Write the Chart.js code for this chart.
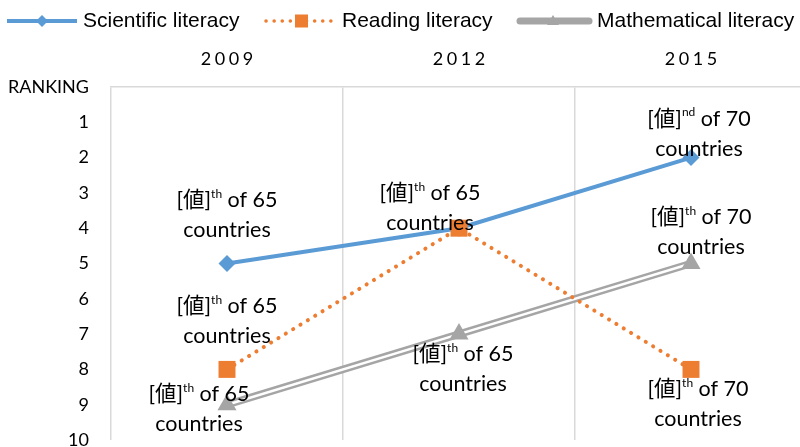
<!DOCTYPE html>
<html>
<head>
<meta charset="utf-8">
<script src="https://cdn.jsdelivr.net/npm/chart.js@4.4.1/dist/chart.umd.min.js"></script>
<style>
html,body{margin:0;padding:0;overflow:hidden;background:#fff;width:800px;height:447px}
canvas{display:block}
</style>
</head>
<body>
<canvas id="ranking" width="819" height="452"></canvas>
<script>
// data
const years = ['2009', '2012', '2015'];
const scienceRank = [5, 4, 2];
const readingRank = [8, 4, 8];
const mathRank = [9, 7, 5];
const totalCountries = [65, 65, 70];
const seriesNames = ['Scientific literacy', 'Reading literacy', 'Mathematical literacy'];

// label placement, moved by hand in the original (px from the point)
const scienceLabelPos = [[0, -48], [-29, -20], [8, -24]];
const readingLabelPos = [[0, -48], null, [7, 35]];
const mathLabelPos = [[-28, 4], [4, 35], [10, -31]];

const blue = '#5B9BD5', orange = '#ED7D31', gray = '#A5A5A5';
const labelFont = '21.5px Lato, "Noto Sans CJK JP", sans-serif';
const supFont = '12px Lato, sans-serif';

function suffix(n){
  if (n % 100 >= 11 && n % 100 <= 13) return 'th';
  if (n % 10 == 1) return 'st';
  if (n % 10 == 2) return 'nd';
  if (n % 10 == 3) return 'rd';
  return 'th';
}

function drawLabel(ctx, cx, cy, rank, total){
  const a = '[値]', s = suffix(rank), b = ' of ' + total;
  ctx.font = labelFont;
  const wa = ctx.measureText(a).width, wb = ctx.measureText(b).width;
  ctx.font = supFont;
  const ws = ctx.measureText(s).width;
  let x = cx - (wa + ws + wb) / 2;
  const y1 = cy - 15;
  ctx.fillStyle = '#000';
  ctx.textBaseline = 'middle';
  ctx.textAlign = 'left';
  ctx.font = labelFont; ctx.fillText(a, x, y1); x += wa;
  ctx.font = supFont; ctx.fillText(s, x, y1 - 6); x += ws;
  ctx.font = labelFont; ctx.fillText(b, x, y1);
  ctx.textAlign = 'center';
  ctx.fillText('countries', cx, cy + 15);
}

const labelPlugin = {
  id: 'rankLabels',
  afterDatasetsDraw(chart){
    const ctx = chart.ctx;
    ctx.save();
    const sets = [[0, scienceRank, scienceLabelPos], [1, readingRank, readingLabelPos], [4, mathRank, mathLabelPos]];
    sets.forEach(([di, ranks, pos]) => {
      const meta = chart.getDatasetMeta(di);
      meta.data.forEach((pt, i) => {
        if (!pos[i]) return;
        drawLabel(ctx, pt.x + pos[i][0], pt.y + pos[i][1], ranks[i], totalCountries[i]);
      });
    });
    ctx.restore();
  },
  afterDraw(chart){
    const ctx = chart.ctx;
    ctx.save();
    // year labels on top, spaced out
    const xs = chart.scales.x;
    ctx.font = '18px Lato, sans-serif';
    ctx.letterSpacing = '3.5px';
    ctx.fillStyle = '#000';
    ctx.textAlign = 'center';
    ctx.textBaseline = 'middle';
    years.forEach((yr, i) => ctx.fillText(yr, xs.getPixelForValue(i) + 1.75, 59));
    ctx.letterSpacing = '0px';

    // legend
    const ly = 21;
    ctx.lineWidth = 4; ctx.strokeStyle = blue;
    ctx.beginPath(); ctx.moveTo(7, ly); ctx.lineTo(77, ly); ctx.stroke();
    ctx.fillStyle = blue;
    ctx.beginPath(); ctx.moveTo(42, ly - 6); ctx.lineTo(48, ly); ctx.lineTo(42, ly + 6); ctx.lineTo(36, ly); ctx.closePath(); ctx.fill();

    ctx.lineWidth = 3.5; ctx.strokeStyle = orange; ctx.lineCap = 'round'; ctx.setLineDash([0.1, 8]);
    ctx.beginPath(); ctx.moveTo(266, ly); ctx.lineTo(336, ly); ctx.stroke();
    ctx.setLineDash([]); ctx.lineCap = 'butt';
    ctx.fillStyle = orange; ctx.fillRect(295, ly - 6.5, 13, 13);

    ctx.lineWidth = 7; ctx.strokeStyle = gray; ctx.lineCap = 'round';
    ctx.beginPath(); ctx.moveTo(520, ly); ctx.lineTo(589, ly); ctx.stroke();
    ctx.lineCap = 'butt';
    ctx.fillStyle = gray;
    ctx.beginPath(); ctx.moveTo(553, ly - 6); ctx.lineTo(559, ly + 4); ctx.lineTo(547, ly + 4); ctx.closePath(); ctx.fill();

    ctx.fillStyle = '#000';
    ctx.font = '21px "Liberation Sans", Arial, sans-serif';
    ctx.textAlign = 'left';
    ctx.fillText(seriesNames[0], 83, ly);
    ctx.fillText(seriesNames[1], 342, ly);
    ctx.fillText(seriesNames[2], 597, ly);
    ctx.restore();
  }
};

new Chart(document.getElementById('ranking'), {
  type: 'line',
  data: {
    labels: years,
    datasets: [
      {
        label: seriesNames[0],
        data: scienceRank,
        borderColor: blue,
        backgroundColor: blue,
        borderWidth: 4,
        pointStyle: 'rectRot',
        pointRadius: 8.5,
        pointBorderWidth: 0,
        order: 3
      },
      {
        label: seriesNames[1],
        data: readingRank,
        borderColor: orange,
        backgroundColor: orange,
        borderWidth: 4,
        borderDash: [0.1, 8.5],
        borderCapStyle: 'round',
        pointStyle: 'rect',
        pointRadius: 12,
        pointBorderWidth: 0,
        order: 2
      },
      {
        label: seriesNames[2],
        data: mathRank,
        borderColor: gray,
        borderWidth: 7.5,
        pointRadius: 0,
        order: 6
      },
      {
        label: 'inner',
        data: mathRank,
        borderColor: '#fff',
        borderWidth: 2.5,
        pointRadius: 0,
        order: 5
      },
      {
        label: 'markers',
        data: mathRank,
        showLine: false,
        backgroundColor: gray,
        pointStyle: 'triangle',
        pointRadius: 11,
        pointBorderWidth: 0,
        order: 4
      }
    ]
  },
  options: {
    responsive: false,
    animation: false,
    events: [],
    layout: { padding: { top: 0, left: 0, right: 1, bottom: 7 } },
    plugins: { legend: { display: false }, tooltip: { enabled: false } },
    scales: {
      x: {
        position: 'top',
        offset: true,
        grid: { offset: true, color: '#d9d9d9', lineWidth: 1.5, drawTicks: false },
        border: { color: '#d9d9d9', width: 1.5 },
        ticks: { display: false },
        afterFit(s){ s.height = 87; s.paddingLeft = 0; s.paddingRight = 0; }
      },
      y: {
        reverse: true,
        min: 0,
        max: 10,
        grid: { display: false, drawTicks: false },
        border: { display: false },
        ticks: {
          stepSize: 1,
          padding: 22,
          color: '#000',
          font: { family: 'Lato', size: 18 },
          callback: v => v === 0 ? 'RANKING' : v
        },
        afterFit(s){ s.width = 111; s.paddingTop = 0; s.paddingBottom = 0; }
      }
    }
  },
  plugins: [labelPlugin]
});
</script>
</body>
</html>
